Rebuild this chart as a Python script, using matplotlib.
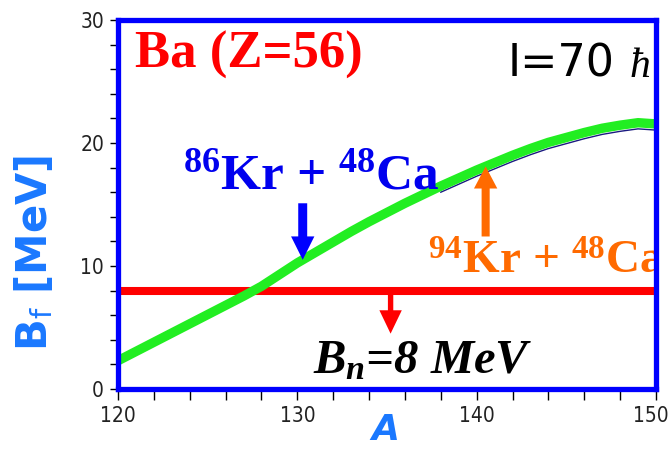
import numpy as np
import matplotlib
matplotlib.use('Agg')
import matplotlib.pyplot as plt
import matplotlib.transforms as mtransforms
from matplotlib.ticker import MultipleLocator

plt.rcParams['mathtext.fontset'] = 'custom'
plt.rcParams['mathtext.rm'] = 'Liberation Serif:bold'
plt.rcParams['mathtext.bf'] = 'Liberation Serif:bold'
plt.rcParams['mathtext.it'] = 'Liberation Serif:italic:bold'

# Fission barrier vs mass number, Ba at I=70 hbar
A = [120, 121, 122, 123, 124, 125, 126, 127, 128, 129, 130, 131, 132, 133, 134, 135,
     136, 137, 138, 139, 140, 141, 142, 143, 144, 145, 146, 147, 148, 149, 150]
Bf = [2.3, 3.05, 3.8, 4.55, 5.3, 6.05, 6.8, 7.55, 8.35, 9.3, 10.25, 11.1, 11.95, 12.8, 13.6, 14.35,
      15.1, 15.8, 16.5, 17.15, 17.8, 18.4, 19.0, 19.55, 20.05, 20.45, 20.85, 21.2, 21.45, 21.65, 21.55]
# second (lower) curve, only seen along the lower edge on the right
A_low = [138, 139, 140, 141, 142, 143, 144, 145, 146, 147, 148, 149, 150]
Bf_low = [16.0, 16.65, 17.3, 17.9, 18.5, 19.05, 19.55, 19.95, 20.35, 20.7, 20.95, 21.15, 21.05]

Bn = 8           # neutron separation energy [MeV]
A_kr86 = 130.3   # 86Kr + 48Ca compound
A_kr94 = 140.5   # 94Kr + 48Ca compound
A_bn_arrow = 135.2

xticks = [120, 130, 140, 150]
yticks = [0, 10, 20, 30]

fig = plt.figure(figsize=(6.72, 4.51), dpi=100)
ax = fig.add_axes([0.1756, 0.1375, 0.8006, 0.8181])

ax.plot(A_low, Bf_low, color='#1a1a80', lw=1.0, zorder=2)
ax.plot(A, Bf, color='#22ee22', lw=6.8, solid_capstyle='butt',
        solid_joinstyle='round', zorder=3)
ax.axhline(Bn, color='#ff0000', lw=5.8, zorder=2)

# arrows
tip86 = np.interp(A_kr86, A, Bf)
ax.arrow(A_kr86, 15.1, 0, tip86 - 15.1, width=0.5, head_width=1.3, head_length=1.9,
         length_includes_head=True, color='#0000ff', lw=0, zorder=4)
tip94 = np.interp(A_kr94, A, Bf)
ax.arrow(A_kr94, 12.4, 0, tip94 - 12.4, width=0.45, head_width=1.3, head_length=1.8,
         length_includes_head=True, color='#ff6a00', lw=0, zorder=4)
ax.arrow(A_bn_arrow, Bn, 0, -3.5, width=0.3, head_width=1.25, head_length=1.9,
         length_includes_head=True, color='#ff0000', lw=0, zorder=4)

# labels inside the frame
ax.text(120.95, 26.1, 'Ba (Z=56)', color='#ff0000', fontsize=38,
        family='Liberation Serif', weight='bold', va='baseline')
ax.text(141.75, 25.4, 'I=70', color='black', fontsize=32,
        family='DejaVu Sans', va='baseline', clip_on=True)
ax.text(148.5, 25.4, '\u0127', color='black', fontsize=30,
        family='Liberation Serif', style='italic', va='baseline', clip_on=True)
ax.text(123.6, 16.3, r'$^{86}$Kr + $^{48}$Ca', color='#0000ee', fontsize=37,
        family='Liberation Serif', weight='bold', va='baseline')
ax.text(137.3, 9.4, r'$^{94}$Kr + $^{48}$Ca', color='#ff6a00', fontsize=34,
        family='Liberation Serif', weight='bold', va='baseline', clip_on=True)
ax.text(130.9, 1.3, r'$\mathit{B_n}$=8 MeV', color='black', fontsize=35,
        family='Liberation Serif', weight='bold', style='italic', va='baseline')

ax.set_xlim(120, 150)
ax.set_ylim(0, 30)
ax.set_xticks(xticks)
ax.set_yticks(yticks)
ax.xaxis.set_minor_locator(MultipleLocator(2))
ax.yaxis.set_minor_locator(MultipleLocator(2))
ax.tick_params(which='both', direction='out', color='black', width=1)
ax.tick_params(axis='x', which='both', length=8, pad=4)
ax.tick_params(axis='y', which='both', length=6, pad=4)
for lab in ax.get_xticklabels() + ax.get_yticklabels():
    lab.set_family('DejaVu Sans')
    lab.set_stretch('condensed')
    lab.set_fontsize(15)
    lab.set_color('#222222')
# keep the last x label inside the canvas
last = ax.get_xticklabels()[-1]
last.set_transform(last.get_transform() +
                   mtransforms.ScaledTranslation(-5 / 100, 0, fig.dpi_scale_trans))

for sp in ax.spines.values():
    sp.set_color('#0000ff')
    sp.set_linewidth(3.8)
    sp.set_zorder(5)

fig.text(0.052, 0.439, r'B$_\mathsf{f}$ [MeV]', rotation=90, color='#1a78ff',
         fontsize=30, family='DejaVu Sans', weight='bold', ha='center', va='center')
fig.text(0.573, 0.047, 'A', color='#1a78ff', fontsize=26, family='DejaVu Sans',
         weight='bold', style='italic', ha='center', va='center')

fig.savefig('out.png', dpi=100)
